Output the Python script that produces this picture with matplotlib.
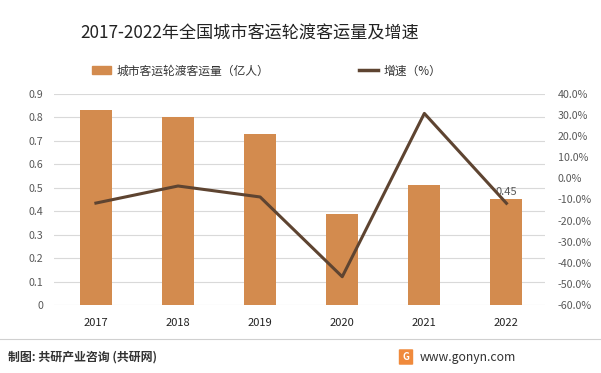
import matplotlib
matplotlib.use("Agg")
import matplotlib.pyplot as plt
from matplotlib.patches import FancyBboxPatch
from matplotlib.lines import Line2D
from matplotlib.patches import Patch

plt.rcParams['font.family'] = ['Noto Sans CJK SC', 'DejaVu Sans']

years = ["2017", "2018", "2019", "2020", "2021", "2022"]
volume = [0.83, 0.80, 0.73, 0.39, 0.51, 0.45]
growth = [-11.7, -3.6, -8.8, -46.6, 30.8, -11.8]
left_ticks = [0, 0.1, 0.2, 0.3, 0.4, 0.5, 0.6, 0.7, 0.8, 0.9]
right_ticks = [-60, -50, -40, -30, -20, -10, 0, 10, 20, 30, 40]

bar_color = "#D38B4E"
line_color = "#5E4431"
text_color = "#595959"
grid_color = "#D9D9D9"

fig = plt.figure(figsize=(6.01, 3.73), dpi=100)
ax = fig.add_axes([0.0899, 0.1823, 0.817, 0.5657])
x = list(range(len(years)))
ax.bar(x, volume, width=0.39, color=bar_color, zorder=2)
ax.set_ylim(0, 0.9)
ax.set_xlim(-0.51, 5.47)
ax.set_yticks(left_ticks)
ax.set_yticklabels([("%g" % v) for v in left_ticks], color=text_color, fontsize=7.7)
ax.set_xticks(x)
ax.set_xticklabels(years, fontsize=8, color="#222222")
ax.tick_params(axis='y', length=0, pad=8)
ax.tick_params(axis='x', length=0, pad=9)
ax.grid(axis='y', color=grid_color, linewidth=0.8, zorder=0)
for s in ax.spines.values():
    s.set_visible(False)
ax.text(x[-1], volume[-1] + 0.012, "%.2f" % volume[-1], ha='center', va='bottom',
        fontsize=8, color=text_color, zorder=5)

ax2 = ax.twinx()
ax2.plot(x, growth, color=line_color, linewidth=2.2, zorder=3)
ax2.set_ylim(-60, 40)
ax2.set_yticks(right_ticks)
ax2.set_yticklabels(["%.1f%%" % v for v in right_ticks], color=text_color, fontsize=7.7)
ax2.tick_params(length=0, pad=9)
for s in ax2.spines.values():
    s.set_visible(False)

fig.text(0.416, 0.91, "2017-2022年全国城市客运轮渡客运量及增速", ha='center', va='center',
         fontsize=12.3, color="#222222")

handles = [Patch(color=bar_color), Line2D([0], [0], color=line_color, linewidth=2.5)]
labels = ["城市客运轮渡客运量（亿人）", "增速（%）"]
leg = fig.legend(handles, labels, loc='center', bbox_to_anchor=(0.444, 0.81), ncol=2,
                 frameon=False, fontsize=8.5, columnspacing=7.6, handlelength=1.6,
                 handleheight=0.6, handletextpad=0.5)
for t in leg.get_texts():
    t.set_color("#333333")

fig.add_artist(Line2D([0.0, 1.0], [1 - 339 / 373, 1 - 339 / 373], color="#D0D0D0", linewidth=0.8))
fig.text(0.013, 1 - 357 / 373, "制图: 共研产业咨询 (共研网)", ha='left', va='center',
         fontsize=8.6, color="#333333", fontweight='bold')
fig.text(420 / 601, 1 - 357 / 373, "www.gonyn.com", ha='left', va='center', fontsize=8.8, color="#333333")
logo = FancyBboxPatch((400 / 601, 1 - 364 / 373), 12 / 601, 14 / 373,
                      boxstyle="round,pad=0.002", transform=fig.transFigure,
                      facecolor="#F08A3C", edgecolor="none")
fig.add_artist(logo)
fig.text(406 / 601, 1 - 357 / 373, "G", ha='center', va='center', fontsize=7,
         color="white", fontweight='bold')

fig.savefig("out.png", dpi=100)
